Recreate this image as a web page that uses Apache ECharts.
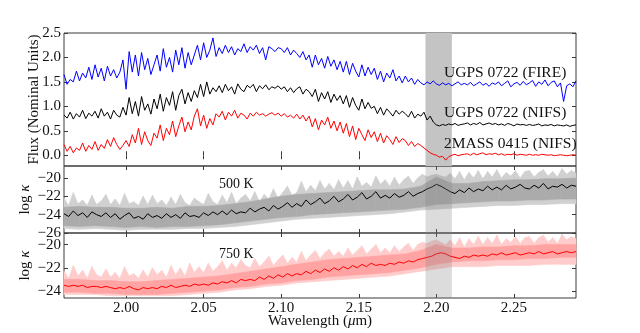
<!DOCTYPE html>
<html>
<head>
<meta charset="utf-8">
<script src="https://cdn.jsdelivr.net/npm/echarts@6/dist/echarts.min.js"></script>
<style>
html, body { margin: 0; padding: 0; background: #fff; }
#chart { width: 640px; height: 333px; }
</style>
</head>
<body>
<div id="chart"></div>
<script>
// wavelength grids in micron
var specStart = 1.96, specStep = 0.002;   // flux spectra
var opStart = 1.96, opStep = 0.003;       // opacity line + spikes
var coreStart = 1.96, coreStep = 0.01;    // opacity envelope

var xTicks = [2.00, 2.05, 2.10, 2.15, 2.20, 2.25];
var fluxTicks = [0, 0.5, 1.0, 1.5, 2.0, 2.5];
var k5Ticks = [-26, -24, -22, -20];
var k7Ticks = [-24, -22, -20];
var band = [2.193, 2.21];

// UGPS 0722 (FIRE)
var fire = [
  1.65, 1.45, 1.55, 1.50, 1.72, 1.52, 1.68, 1.58, 1.80, 1.55,
  1.85, 1.60, 1.78, 1.52, 1.82, 1.62, 1.75, 1.58, 1.70, 1.95,
  1.35, 2.12, 1.70, 2.05, 1.62, 2.10, 1.75, 1.98, 1.65, 1.85,
  2.05, 1.72, 2.18, 1.80, 2.00, 1.70, 2.15, 1.85, 2.20, 1.78,
  2.10, 1.85, 2.05, 2.25, 1.95, 2.30, 2.00, 2.15, 2.40, 2.02,
  2.20, 2.08, 2.25, 2.10, 2.22, 2.05, 2.18, 2.12, 2.28, 2.10,
  2.22, 2.15, 2.25, 2.08, 2.20, 1.95, 2.22, 2.18, 2.12, 2.20,
  2.18, 2.10, 2.20, 2.05, 2.15, 2.08, 2.00, 2.12, 1.95, 2.05,
  1.80, 2.05, 1.85, 1.98, 1.78, 2.02, 1.82, 1.95, 1.75, 1.92,
  1.70, 1.92, 1.65, 1.88, 1.72, 1.60, 1.85, 1.62, 1.80, 1.65,
  1.78, 1.55, 1.72, 1.50, 1.68, 1.58, 1.75, 1.52, 1.62, 1.48,
  1.62, 1.50, 1.58, 1.45, 1.55, 1.48, 1.44, 1.50, 1.46, 1.52,
  1.46, 1.43, 1.48, 1.44, 1.47, 1.42, 1.46, 1.50, 1.44, 1.47,
  1.44, 1.49, 1.42, 1.46, 1.50, 1.43, 1.47, 1.41, 1.48, 1.45,
  1.50, 1.42, 1.47, 1.52, 1.40, 1.46, 1.49, 1.43, 1.51, 1.44,
  1.48, 1.53, 1.41, 1.50, 1.45, 1.54, 1.42, 1.49, 1.52, 1.40,
  1.48, 1.10, 1.42, 1.46, 1.40, 1.52
];

// UGPS 0722 (NIFS)
var nifs = [
  0.82, 0.76, 0.88, 0.74, 0.85, 0.78, 0.92, 0.75, 0.86, 0.80,
  0.90, 0.76, 0.95, 0.80, 0.88, 0.74, 0.92, 0.82, 0.78, 0.98,
  0.82, 1.18, 0.85, 1.10, 0.80, 1.20, 0.92, 1.05, 0.84, 1.15,
  0.95, 1.25, 0.90, 1.18, 1.02, 1.30, 0.92, 1.22, 1.35, 1.05,
  1.28, 1.10, 1.32, 1.18, 1.45, 1.20, 1.50, 1.25, 1.38, 1.30,
  1.42, 1.28, 1.45, 1.32, 1.40, 1.25, 1.46, 1.35, 1.30, 1.43,
  1.38, 1.45, 1.30, 1.42, 1.36, 1.44, 1.34, 1.40, 1.37, 1.42,
  1.35, 1.40, 1.30, 1.38, 1.28, 1.36, 1.40, 1.25, 1.35, 1.30,
  1.20, 1.35, 1.10, 1.28, 1.15, 1.30, 1.08, 1.25, 1.12, 1.22,
  1.05, 1.22, 0.98, 1.18, 1.02, 0.92, 1.15, 0.95, 1.08, 0.96,
  1.00, 0.85, 0.98, 0.82, 0.95, 0.88, 0.80, 0.92, 0.84, 0.90,
  0.85, 0.78, 0.90, 0.76, 0.84, 0.80, 0.88, 0.72, 0.80, 0.68,
  0.62, 0.60, 0.63, 0.61, 0.64, 0.62, 0.65, 0.61, 0.63, 0.64,
  0.66, 0.62, 0.65, 0.63, 0.67, 0.62, 0.64, 0.66, 0.63, 0.65,
  0.62, 0.64, 0.61, 0.65, 0.63, 0.60, 0.64, 0.62, 0.63, 0.61,
  0.63, 0.61, 0.62, 0.64, 0.60, 0.62, 0.61, 0.63, 0.60, 0.62,
  0.61, 0.60, 0.62, 0.59, 0.61, 0.62
];

// 2MASS 0415 (NIFS)
var mass = [
  0.22, 0.08, 0.18, 0.05, 0.15, 0.10, 0.25, 0.08, 0.20, 0.12,
  0.28, 0.10, 0.22, 0.14, 0.32, 0.18, 0.36, 0.22, 0.12, 0.20,
  0.30, 0.18, 0.42, 0.25, 0.55, 0.22, 0.48, 0.30, 0.20, 0.45,
  0.35, 0.62, 0.30, 0.55, 0.42, 0.70, 0.38, 0.60, 0.78, 0.48,
  0.68, 0.52, 0.80, 0.95, 0.60, 0.82, 0.55, 0.75, 0.62, 0.85,
  0.78, 0.90, 0.72, 0.88, 0.80, 0.92, 0.76, 0.86, 0.82, 0.74,
  0.86, 0.80, 0.88, 0.82, 0.85, 0.80, 0.84, 0.87, 0.82, 0.86,
  0.80, 0.85, 0.78, 0.82, 0.76, 0.84, 0.74, 0.82, 0.70, 0.80,
  0.58, 0.75, 0.52, 0.72, 0.62, 0.78, 0.55, 0.70, 0.50, 0.68,
  0.45, 0.65, 0.38, 0.60, 0.32, 0.55, 0.42, 0.30, 0.52, 0.36,
  0.48, 0.28, 0.45, 0.25, 0.40, 0.32, 0.22, 0.38, 0.26, 0.34,
  0.30, 0.20, 0.28, 0.18, 0.24, 0.20, 0.15, 0.10, 0.05, 0.02,
  0.00, -0.04, -0.02, -0.10, -0.03, 0.00, 0.02, -0.01, 0.01, 0.02,
  0.03, 0.00, 0.04, 0.01, 0.03, 0.05, 0.01, 0.03, 0.02, 0.04,
  0.01, 0.03, 0.00, 0.02, 0.01, 0.03, 0.00, 0.02, 0.01, 0.00,
  0.02, 0.00, 0.01, 0.00, 0.02, 0.01, 0.00, 0.01, -0.01, 0.00,
  0.01, 0.00, -0.01, 0.00, 0.01, 0.00
];

// 500 K opacity: median line and spike tops (opStep grid)
var k5mid = [
  -23.9, -24.2, -23.6, -24.1, -23.8, -24.3, -23.7, -24.0, -24.2, -23.8,
  -24.3, -23.9, -24.5, -24.1, -23.8, -24.4, -24.2, -24.5, -23.9, -24.3,
  -24.1, -24.4, -23.9, -24.3, -24.0, -24.4, -23.8, -24.2, -24.1, -24.3,
  -23.8, -24.1, -23.7, -24.0, -23.6, -24.0, -23.5, -23.9, -23.7, -23.8,
  -23.3, -23.7, -23.4, -23.2, -23.6, -23.0, -23.4, -23.1, -22.7, -23.2,
  -22.8, -23.1, -22.4, -22.9, -22.6, -22.2, -22.8, -22.5, -22.0, -22.6,
  -22.3, -21.8, -22.4, -22.1, -21.6, -22.3, -22.0, -21.5, -22.2, -21.9,
  -22.2, -21.7, -22.1, -21.9, -21.5, -22.0, -21.7, -21.5, -21.2, -21.0,
  -20.7, -20.9, -21.2, -21.5, -21.7, -21.3, -21.6, -21.1, -21.5, -21.2,
  -21.4, -20.9, -21.3, -21.0, -21.3, -20.8, -21.2, -21.0, -20.7, -21.1,
  -21.2, -20.8, -21.1, -20.6, -21.2, -20.9, -21.0, -20.7, -21.1, -20.8, -20.9
];
var k5spike = [
  -22.2, -23.0, -21.6, -22.8, -22.4, -23.0, -21.9, -22.9, -22.5, -21.8,
  -22.9, -22.3, -23.0, -21.7, -22.8, -22.6, -23.0, -22.0, -22.9, -21.9,
  -22.8, -22.4, -23.0, -22.1, -22.9, -21.8, -22.7, -23.0, -22.2, -22.6,
  -22.9, -21.7, -22.6, -22.9, -21.9, -22.7, -21.6, -22.8, -22.2, -21.8,
  -22.5, -21.5, -22.6, -21.8, -22.3, -21.2, -22.2, -21.6, -20.9, -21.9,
  -21.6, -20.4, -21.5, -20.8, -21.4, -20.3, -21.2, -20.6, -21.3, -20.2,
  -21.1, -20.3, -21.2, -19.9, -20.9, -20.5, -21.0, -19.8, -20.7, -20.2,
  -20.9, -19.9, -20.8, -20.2, -19.8, -20.6, -20.0, -19.6, -19.9, -19.7,
  -19.6, -19.8, -19.9, -19.5, -20.1, -19.3, -20.2, -19.4, -20.0, -19.2,
  -20.1, -19.3, -19.9, -19.1, -20.0, -19.4, -19.8, -19.2, -20.0, -19.3,
  -19.2, -19.9, -19.4, -19.1, -19.8, -19.3, -19.9, -19.0, -19.6, -19.2, -19.5
];
// 500 K envelope (coreStep grid): faint floor, core bottom, core top
var k5floor = [
  -25.5, -25.6, -25.5, -25.6, -25.7, -25.6, -25.6, -25.6, -25.5, -25.5,
  -25.4, -25.3, -25.1, -24.9, -24.7, -24.5, -24.4, -24.3, -24.2, -24.1,
  -24.0, -23.9, -23.7, -23.5, -23.4, -23.3, -23.2, -23.1, -23.0, -23.0,
  -22.9, -22.9, -22.8, -22.8
];
var k5lo = [
  -25.2, -25.3, -25.2, -25.3, -25.4, -25.3, -25.4, -25.3, -25.3, -25.2,
  -25.1, -24.9, -24.7, -24.5, -24.3, -24.2, -24.0, -23.9, -23.8, -23.7,
  -23.6, -23.5, -23.4, -23.2, -22.9, -22.8, -22.7, -22.6, -22.5, -22.5,
  -22.4, -22.4, -22.3, -22.3
];
var k5hi = [
  -23.2, -23.1, -23.2, -23.2, -23.3, -23.3, -23.2, -23.3, -23.1, -23.1,
  -23.0, -22.8, -22.6, -22.3, -22.0, -21.8, -21.7, -21.6, -21.5, -21.4,
  -21.3, -21.3, -21.2, -20.9, -19.9, -20.6, -20.6, -20.4, -20.3, -20.2,
  -20.2, -20.1, -20.1, -20.0
];

// 750 K opacity
var k7mid = [
  -23.5, -23.6, -23.5, -23.6, -23.5, -23.7, -23.6, -23.6, -23.7, -23.6,
  -23.7, -23.8, -23.7, -23.8, -23.6, -23.8, -23.9, -23.7, -23.8, -23.7,
  -23.8, -23.6, -23.7, -23.5, -23.7, -23.6, -23.5, -23.6, -23.4, -23.5,
  -23.4, -23.5, -23.3, -23.4, -23.2, -23.3, -23.1, -23.3, -23.0, -23.1,
  -23.0, -23.1, -22.8, -23.0, -22.7, -22.9, -22.6, -22.8, -22.5, -22.7,
  -22.5, -22.6, -22.3, -22.5, -22.2, -22.4, -22.1, -22.3, -22.0, -22.2,
  -21.9, -22.1, -21.8, -22.0, -21.7, -21.9, -21.6, -21.8, -21.7, -21.8,
  -21.6, -21.7, -21.5, -21.6, -21.4, -21.5, -21.3, -21.2, -21.1, -21.0,
  -20.8, -20.7, -20.8, -21.0, -21.1, -21.2, -21.0, -21.1, -20.9, -21.0,
  -20.9, -21.0, -20.8, -20.9, -20.7, -20.9, -20.8, -20.7, -20.9, -20.8,
  -20.7, -20.8, -20.6, -20.8, -20.7, -20.6, -20.8, -20.7, -20.6, -20.7, -20.6
];
var k7spike = [
  -22.3, -22.9, -21.8, -22.7, -22.2, -22.9, -21.9, -22.6, -22.8, -22.1,
  -22.8, -22.4, -22.9, -21.9, -22.7, -22.5, -22.9, -22.2, -22.8, -22.0,
  -22.6, -22.2, -22.8, -21.8, -22.6, -22.0, -22.7, -21.6, -22.4, -21.9,
  -22.4, -21.6, -22.3, -21.9, -21.4, -22.2, -21.6, -22.0, -21.3, -21.8,
  -22.0, -21.2, -21.9, -21.5, -21.0, -21.8, -21.3, -20.9, -21.6, -21.1,
  -21.5, -20.6, -21.4, -20.9, -20.5, -21.2, -20.7, -20.4, -21.0, -20.6,
  -21.0, -20.3, -20.9, -20.5, -20.1, -20.8, -20.4, -20.0, -20.7, -20.3,
  -20.7, -20.1, -20.6, -20.2, -19.9, -20.5, -20.0, -19.8, -19.9, -19.7,
  -19.6, -19.8, -20.0, -19.6, -20.1, -19.4, -20.2, -19.5, -20.0, -19.3,
  -20.0, -19.4, -19.9, -19.2, -20.0, -19.5, -19.8, -19.3, -19.9, -19.4,
  -19.3, -19.9, -19.4, -19.2, -19.8, -19.4, -19.9, -19.1, -19.6, -19.3, -19.5
];
var k7floor = [
  -24.3, -24.3, -24.3, -24.4, -24.4, -24.4, -24.4, -24.4, -24.3, -24.2,
  -24.1, -23.9, -23.8, -23.6, -23.5, -23.3, -23.2, -23.1, -23.0, -22.9,
  -22.8, -22.7, -22.5, -22.3, -22.1, -21.9, -21.9, -21.9, -21.8, -21.8,
  -21.8, -21.7, -21.7, -21.7
];
var k7lo = [
  -24.1, -24.1, -24.2, -24.2, -24.3, -24.3, -24.3, -24.2, -24.1, -24.0,
  -23.9, -23.7, -23.6, -23.4, -23.3, -23.1, -23.0, -22.8, -22.7, -22.6,
  -22.5, -22.4, -22.2, -22.0, -21.7, -21.5, -21.4, -21.4, -21.3, -21.3,
  -21.2, -21.2, -21.1, -21.1
];
var k7hi = [
  -23.0, -23.0, -23.1, -23.1, -23.2, -23.2, -23.1, -23.0, -22.9, -22.8,
  -22.7, -22.5, -22.3, -22.1, -21.9, -21.7, -21.5, -21.3, -21.2, -21.1,
  -21.0, -20.9, -20.8, -20.5, -20.0, -20.3, -20.3, -20.2, -20.2, -20.1,
  -20.1, -20.0, -20.0, -20.0
];

var FONT = 'Liberation Serif';
var FRAME = '#3a3a3a';

function lam(start, step, i) {
  return +(start + step * i).toFixed(4);
}
function pairs(start, step, vals) {
  return vals.map(function (v, i) { return [lam(start, step, i), v]; });
}
// one item per segment: [x0, lo0, hi0, x1, lo1, hi1]
function segments(start, step, lo, hi) {
  var out = [];
  for (var i = 0; i < lo.length - 1; i++) {
    out.push([lam(start, step, i), lo[i], hi[i], lam(start, step, i + 1), lo[i + 1], hi[i + 1]]);
  }
  return out;
}

var chart = echarts.init(document.getElementById('chart'));

var grids = [
  { left: 64, right: 64, top: 33, height: 133 },
  { left: 64, right: 64, top: 166, height: 67 },
  { left: 64, right: 64, top: 233, height: 65 }
];
grids.forEach(function (g) {
  g.show = true; g.borderColor = FRAME; g.borderWidth = 1; g.backgroundColor = 'transparent';
});

var xAxes = [], yAxes = [];
function tickStyle(vals) {
  return { show: true, inside: true, length: 4, customValues: vals, lineStyle: { color: FRAME, width: 1 } };
}
var nameStyle = { color: '#111', fontFamily: FONT, fontSize: 15,
  rich: { i: { fontStyle: 'italic', fontFamily: FONT, fontSize: 15, color: '#111' } } };

[0, 1, 2].forEach(function (gi) {
  ['bottom', 'top'].forEach(function (pos) {
    var showLab = gi === 2 && pos === 'bottom';
    var ax = {
      type: 'value', gridIndex: gi, position: pos, min: 1.96, max: 2.29,
      axisLine: { show: false }, splitLine: { show: false },
      axisTick: tickStyle(xTicks),
      axisLabel: {
        show: showLab, customValues: xTicks, margin: 3,
        formatter: function (v) { return v.toFixed(2); },
        color: '#111', fontFamily: FONT, fontSize: 15
      }
    };
    if (showLab) {
      ax.name = 'Wavelength ({i|\u03bc}m)';
      ax.nameLocation = 'middle';
      ax.nameGap = 16;
      ax.nameMoveOverlap = false;
      ax.nameTextStyle = nameStyle;
    }
    xAxes.push(ax);
  });
});

var yConf = [
  { min: -0.22, max: 2.5, ticks: fluxTicks, fmt: function (v) { return v.toFixed(1); },
    name: 'Flux (Nominal Units)', gap: 22 },
  { min: -26, max: -18.7, ticks: k5Ticks, fmt: function (v) { return '\u2212' + Math.abs(v); },
    name: 'log {i|\u03ba}', gap: 31 },
  { min: -24.6, max: -19, ticks: k7Ticks, fmt: function (v) { return '\u2212' + Math.abs(v); },
    name: 'log {i|\u03ba}', gap: 31 }
];
yConf.forEach(function (c, gi) {
  ['left', 'right'].forEach(function (pos) {
    var left = pos === 'left';
    yAxes.push({
      type: 'value', gridIndex: gi, position: pos, min: c.min, max: c.max,
      axisLine: { show: false }, splitLine: { show: false },
      axisTick: tickStyle(c.ticks),
      axisLabel: { show: left, customValues: c.ticks, formatter: c.fmt, margin: 3,
        color: '#111', fontFamily: FONT, fontSize: 15 },
      name: left ? c.name : '',
      nameLocation: 'middle', nameGap: c.gap, nameRotate: 90, nameMoveOverlap: false,
      nameTextStyle: nameStyle
    });
  });
});

function bandSeries(xi, yi, color, z) {
  return {
    type: 'line', xAxisIndex: xi, yAxisIndex: yi, data: [[2.2, 0]], symbol: 'none',
    lineStyle: { opacity: 0 }, silent: true, z: z,
    markArea: { silent: true, z: z, itemStyle: { color: color }, data: [[{ xAxis: band[0] }, { xAxis: band[1] }]] }
  };
}
function specSeries(vals, color) {
  return {
    type: 'line', xAxisIndex: 0, yAxisIndex: 0, data: pairs(specStart, specStep, vals),
    symbol: 'none', lineStyle: { color: color, width: 1 }, z: 3, silent: true
  };
}
// filled ribbon between two curves, drawn segment by segment
function ribbonSeries(xi, yi, start, step, lo, hi, color, z) {
  return {
    type: 'custom', xAxisIndex: xi, yAxisIndex: yi, silent: true, z: z,
    data: segments(start, step, lo, hi), encode: { x: [0, 3], y: [1, 2, 4, 5] },
    itemStyle: { color: color },
    renderItem: function (params, api) {
      var a = api.coord([api.value(0), api.value(1)]);
      var b = api.coord([api.value(3), api.value(4)]);
      var c = api.coord([api.value(3), api.value(5)]);
      var d = api.coord([api.value(0), api.value(2)]);
      var col = api.visual('color');
      return { type: 'polygon', shape: { points: [a, b, c, d] },
        style: { fill: col, stroke: col, lineWidth: 0.6 } };
    }
  };
}
function midSeries(xi, yi, vals, color) {
  return {
    type: 'line', xAxisIndex: xi, yAxisIndex: yi, data: pairs(opStart, opStep, vals),
    symbol: 'none', lineStyle: { color: color, width: 1 }, z: 4, silent: true
  };
}

var series = [
  bandSeries(0, 0, '#c4c4c4', 1),
  specSeries(fire, '#0000ff'),
  specSeries(nifs, '#000000'),
  specSeries(mass, '#ff0000'),

  ribbonSeries(2, 2, opStart, opStep, k5mid, k5spike, '#d0d0d0', 1),
  ribbonSeries(2, 2, coreStart, coreStep, k5floor, k5lo, '#d0d0d0', 2),
  ribbonSeries(2, 2, coreStart, coreStep, k5lo, k5hi, '#ababab', 2),
  midSeries(2, 2, k5mid, '#000000'),
  bandSeries(2, 2, 'rgba(128,128,128,0.28)', 10),

  ribbonSeries(4, 4, opStart, opStep, k7mid, k7spike, '#ffcccc', 1),
  ribbonSeries(4, 4, coreStart, coreStep, k7floor, k7lo, '#ffcccc', 2),
  ribbonSeries(4, 4, coreStart, coreStep, k7lo, k7hi, '#ffa3a3', 2),
  midSeries(4, 4, k7mid, '#ff0000'),
  bandSeries(4, 4, 'rgba(128,128,128,0.28)', 10)
];

function label(text, x, y, size) {
  return { type: 'text', x: x, y: y, z: 100,
    style: { text: text, fill: '#111', font: size + 'px "' + FONT + '"', verticalAlign: 'middle' } };
}

chart.setOption({
  animation: false,
  backgroundColor: '#fff',
  grid: grids,
  xAxis: xAxes,
  yAxis: yAxes,
  series: series,
  graphic: [
    label('UGPS 0722 (FIRE)', 444, 73, 15.5),
    label('UGPS 0722 (NIFS)', 444, 113, 15.5),
    label('2MASS 0415 (NIFS)', 444, 144, 15.5),
    label('500 K', 219, 184, 14),
    label('750 K', 219, 254, 14)
  ]
});
</script>
</body>
</html>
